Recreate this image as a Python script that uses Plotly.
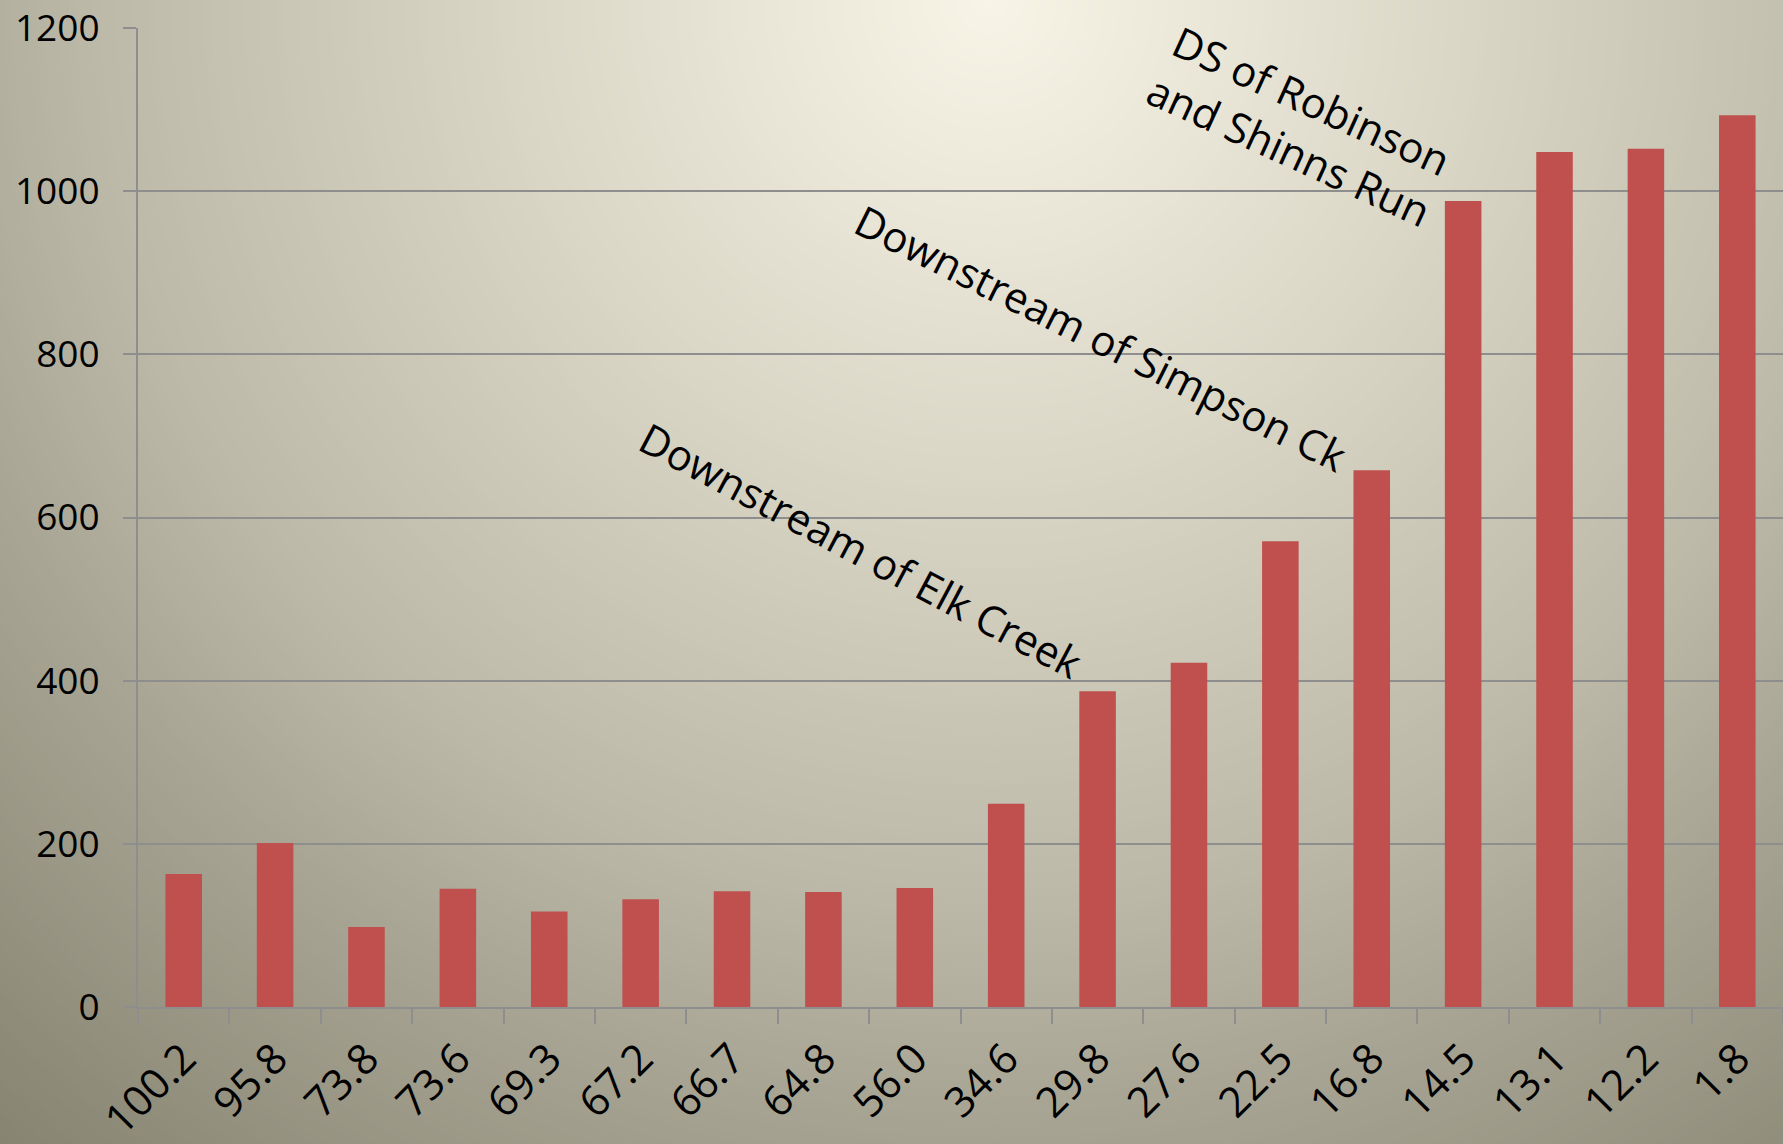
import plotly.graph_objects as go

# river mile of each site, upstream to downstream
river_miles = ["100.2", "95.8", "73.8", "73.6", "69.3", "67.2", "66.7", "64.8", "56.0",
               "34.6", "29.8", "27.6", "22.5", "16.8", "14.5", "13.1", "12.2", "1.8"]
values = [163, 201, 98, 145, 117, 132, 142, 141, 146,
          249, 387, 422, 571, 658, 988, 1048, 1052, 1093]

y_ticks = [0, 200, 400, 600, 800, 1000, 1200]

notes = ["Downstream of Elk Creek", "Downstream of Simpson Ck", "DS of Robinson<br>and Shinns Run"]

W, H = 1783, 1144
ML, MR, MT, MB = 138, 0, 28, 137
PW, PH = W - ML - MR, H - MT - MB

FONT = "Open Sans, Lato, sans-serif"
GRID = "#8e8e8e"


def to_paper(px, py):
    return (px - ML) / PW, (H - MB - py) / PH


# radial background: colour stops by pixel distance from a point at the top
grad_stops = [(0, (248, 245, 232)), (470, (218, 215, 199)), (900, (188, 185, 169)),
              (1110, (168, 165, 148)), (1550, (132, 129, 111))]


def grad_color(r):
    for (r0, c0), (r1, c1) in zip(grad_stops, grad_stops[1:]):
        if r <= r1:
            t = (r - r0) / (r1 - r0)
            return "rgb(%d,%d,%d)" % tuple(round(a + (b - a) * t) for a, b in zip(c0, c1))
    return "rgb(%d,%d,%d)" % grad_stops[-1][1]


cx, cy = to_paper(990, 0)
shapes = []
for r in range(1650, 0, -8):
    shapes.append(dict(type="circle", xref="paper", yref="paper",
                       xsizemode="pixel", ysizemode="pixel",
                       xanchor=cx, yanchor=cy, x0=-r, x1=r, y0=-r, y1=r,
                       fillcolor=grad_color(r), line_width=0, layer="below"))

fig = go.Figure()
fig.add_trace(go.Bar(x=river_miles, y=values, marker_color="#c0504d",
                     marker_line_width=0, showlegend=False, hoverinfo="skip"))

# annotation centres and angles, in pixels
note_pos = [(861, 549, 28), (1101, 338, 26.5), (1300, 125, 24.5)]
annotations = []
for text, (px, py, ang) in zip(notes, note_pos):
    ax_, ay_ = to_paper(px, py)
    annotations.append(dict(text=text, x=ax_, y=ay_, xref="paper", yref="paper",
                            xanchor="center", yanchor="middle",
                            showarrow=False, textangle=ang,
                            font=dict(family=FONT, size=42, color="black")))

fig.update_layout(
    width=W, height=H,
    margin=dict(l=ML, r=MR, t=MT, b=MB),
    paper_bgcolor="rgb(132,129,111)",
    plot_bgcolor="rgba(0,0,0,0)",
    bargap=0.6,
    shapes=shapes,
    annotations=annotations,
    font=dict(family=FONT, size=37, color="black"),
)
fig.update_xaxes(type="category", range=[-0.5, 17.5], tickangle=-45,
                 showline=True, linecolor=GRID, linewidth=2,
                 ticks="outside", ticklen=15, tickcolor=GRID, tickwidth=2,
                 tickson="boundaries", showgrid=False, automargin=False,
                 ticklabelstandoff=8,
                 tickfont=dict(family=FONT, size=42, color="black"))
fig.update_yaxes(range=[0, 1200], tickvals=y_ticks,
                 showline=True, linecolor=GRID, linewidth=2,
                 ticks="outside", ticklen=13, tickcolor=GRID, tickwidth=2,
                 showgrid=True, gridcolor=GRID, gridwidth=2, zeroline=False,
                 automargin=False, ticklabelstandoff=16,
                 tickfont=dict(family=FONT, size=37, color="black"))

fig.write_html("out.html", config={"displayModeBar": False},
               post_script="document.body.style.margin='0';")
